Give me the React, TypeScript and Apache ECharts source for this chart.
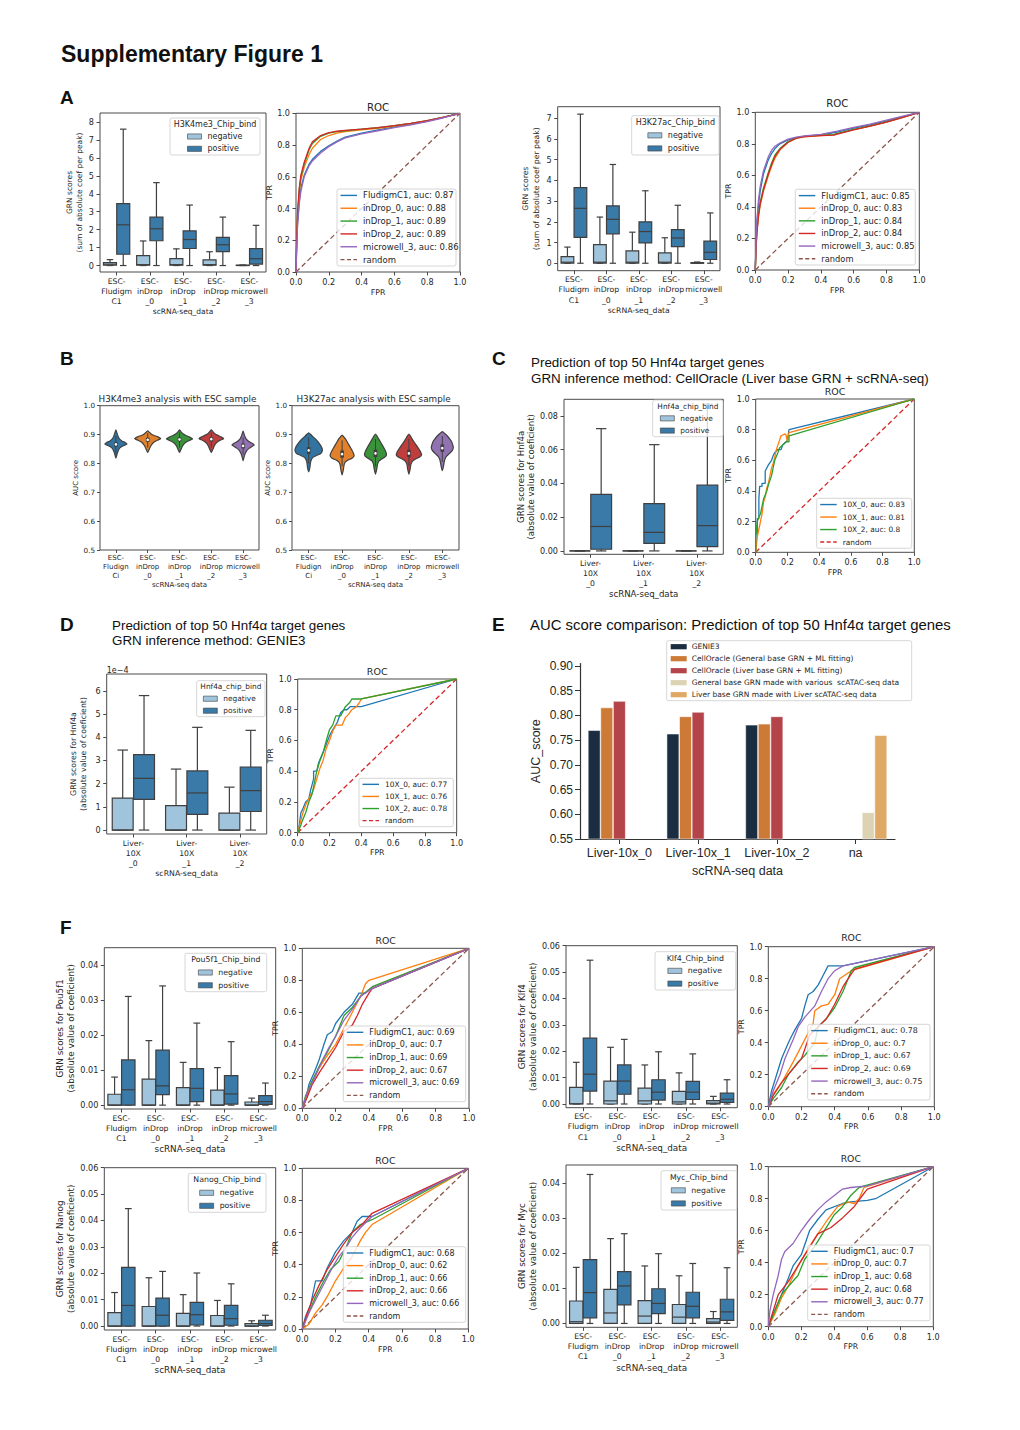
import React, { useEffect, useRef } from "react";
import * as echarts from "echarts";

// ---------------- categories & ticks ----------------
const ESC_CATEGORIES = ["ESC-\nFludigm\nC1", "ESC-\ninDrop\n_0", "ESC-\ninDrop\n_1", "ESC-\ninDrop\n_2", "ESC-\nmicrowell\n_3"];
const VIOLIN_CATEGORIES = ["ESC-\nFludign\nCi", "ESC-\ninDrop\n_0", "ESC-\ninDrop\n_1", "ESC-\ninDrop\n_2", "ESC-\nmicrowell\n_3"];
const LIVER_CATEGORIES = ["Liver-\n10X\n_0", "Liver-\n10X\n_1", "Liver-\n10X\n_2"];
const E_CATEGORIES = ["Liver-10x_0", "Liver-10x_1", "Liver-10x_2", "na"];
const ESC_ROC_NAMES = ["FludigmC1", "inDrop_0", "inDrop_1", "inDrop_2", "microwell_3"];
const LIVER_ROC_NAMES = ["10X_0", "10X_1", "10X_2"];

const ROC_TICKS = [0, 0.2, 0.4, 0.6, 0.8, 1.0];
const A1_TICKS = [0, 1, 2, 3, 4, 5, 6, 7, 8];
const A2_TICKS = [0, 1, 2, 3, 4, 5, 6, 7];
const C_TICKS = [0, 0.02, 0.04, 0.06, 0.08];
const D_TICKS = [0, 1, 2, 3, 4, 5, 6];
const F4_TICKS = [0, 0.01, 0.02, 0.03, 0.04];
const F6_TICKS = [0, 0.01, 0.02, 0.03, 0.04, 0.05, 0.06];
const B_TICKS = [0.5, 0.6, 0.7, 0.8, 0.9, 1.0];
const E_TICKS = [0.55, 0.6, 0.65, 0.7, 0.75, 0.8, 0.85, 0.9];

// ---------------- box plot values [min, q1, median, q3, max] ----------------
const A1_NEG = [[0, 0.02, 0.08, 0.17, 0.33], [0, 0.02, 0.05, 0.55, 1.37], [0, 0.02, 0.05, 0.38, 0.93], [0, 0.02, 0.05, 0.32, 0.77], [0, 0, 0.01, 0.02, 0.03]];
const A1_POS = [[0, 0.63, 2.27, 3.45, 7.6], [0, 1.38, 2.05, 2.7, 4.62], [0, 0.95, 1.45, 1.93, 3.37], [0, 0.78, 1.16, 1.57, 2.7], [0, 0.08, 0.38, 0.94, 2.24]];
const A2_NEG = [[0, 0.01, 0.05, 0.32, 0.78], [0, 0.01, 0.05, 0.9, 2.23], [0, 0.01, 0.05, 0.6, 1.5], [0, 0.01, 0.05, 0.5, 1.23], [0, 0, 0.01, 0.03, 0.06]];
const A2_POS = [[0, 1.25, 2.65, 3.65, 7.2], [0, 1.42, 2.12, 2.77, 4.77], [0, 0.98, 1.53, 2.0, 3.5], [0, 0.8, 1.22, 1.62, 2.8], [0, 0.18, 0.53, 1.07, 2.43]];
const C_NEG = [[0, 0, 0, 0, 0], [0, 0, 0, 0, 0], [0, 0, 0, 0, 0]];
const C_POS = [[0, 0.001, 0.0145, 0.0335, 0.0725], [0, 0.0045, 0.011, 0.028, 0.063], [0, 0.0025, 0.015, 0.039, 0.087]];
const D_NEG = [[0, 0, 0, 1.38, 3.45], [0, 0, 0, 1.05, 2.63], [0, 0, 0, 0.73, 1.85]];
const D_POS = [[0, 1.32, 2.23, 3.25, 5.8], [0, 0.68, 1.6, 2.55, 4.43], [0, 0.8, 1.7, 2.72, 4.3]];
const POU5F1_NEG = [[0, 0, 0, 0.0031, 0.008], [0, 0, 0, 0.0074, 0.0184], [0, 0, 0, 0.005, 0.0122], [0, 0, 0, 0.0043, 0.0107], [0, 0, 0, 0.0009, 0.002]];
const POU5F1_POS = [[0, 0, 0.0044, 0.0129, 0.031], [0, 0.003, 0.0055, 0.0157, 0.034], [0, 0.001, 0.0048, 0.0104, 0.0234], [0, 0.0003, 0.0032, 0.0084, 0.0181], [0, 0.0002, 0.001, 0.0027, 0.0063]];
const KLF4_NEG = [[0, 0, 0.0001, 0.0063, 0.0158], [0, 0, 0.0012, 0.0087, 0.0215], [0, 0, 0.0012, 0.006, 0.0148], [0, 0, 0.0008, 0.0048, 0.0118], [0, 0, 0.0003, 0.0013, 0.0029]];
const KLF4_POS = [[0, 0.0049, 0.0113, 0.025, 0.0545], [0, 0.0037, 0.0087, 0.0148, 0.0245], [0, 0.0015, 0.0045, 0.0092, 0.0198], [0, 0.0017, 0.0045, 0.0086, 0.019], [0, 0.0006, 0.0018, 0.0041, 0.0092]];
const NANOG_NEG = [[0, 0, 0, 0.0051, 0.0127], [0, 0, 0, 0.0074, 0.0183], [0, 0, 0, 0.0048, 0.0119], [0, 0, 0, 0.004, 0.0097], [0, 0, 0, 0.0009, 0.002]];
const NANOG_POS = [[0, 0, 0.0078, 0.0222, 0.0445], [0, 0, 0.0041, 0.0106, 0.0207], [0, 0.0004, 0.0043, 0.009, 0.0201], [0, 0.0003, 0.0028, 0.0078, 0.016], [0, 0.0002, 0.0009, 0.0022, 0.0041]];
const MYC_NEG = [[0, 0, 0.0005, 0.0064, 0.016], [0, 0, 0.003, 0.0097, 0.0242], [0, 0, 0.0021, 0.0065, 0.0164], [0, 0, 0.0018, 0.0054, 0.0136], [0, 0, 0.0004, 0.0014, 0.0034]];
const MYC_POS = [[0, 0.0016, 0.0088, 0.0182, 0.0425], [0, 0.0053, 0.0107, 0.0148, 0.0256], [0, 0.0028, 0.0057, 0.0099, 0.0199], [0, 0.0016, 0.0049, 0.0089, 0.0171], [0, 0.0009, 0.0033, 0.0069, 0.0159]];

// ---------------- AUC values ----------------
const A1_AUC = [0.87, 0.88, 0.89, 0.89, 0.86];
const A2_AUC = [0.85, 0.83, 0.84, 0.84, 0.85];
const C_AUC = [0.83, 0.81, 0.8];
const D_AUC = [0.77, 0.76, 0.78];
const POU5F1_AUC = [0.69, 0.7, 0.69, 0.67, 0.69];
const KLF4_AUC = [0.78, 0.7, 0.67, 0.69, 0.75];
const NANOG_AUC = [0.68, 0.62, 0.66, 0.66, 0.66];
const MYC_AUC = [0.7, 0.7, 0.68, 0.68, 0.77];

// ---------------- ROC curves [fpr, tpr] ----------------
const A1_ROC = [
  [[0, 0], [0.005, 0.2], [0.01, 0.32], [0.02, 0.45], [0.03, 0.53], [0.05, 0.61], [0.08, 0.68], [0.1, 0.71], [0.15, 0.76], [0.2, 0.795], [0.25, 0.825], [0.3, 0.85], [0.4, 0.875], [0.5, 0.895], [0.6, 0.915], [0.7, 0.93], [0.8, 0.95], [0.9, 0.975], [1, 1]],
  [[0, 0], [0.005, 0.22], [0.01, 0.35], [0.02, 0.5], [0.03, 0.58], [0.05, 0.66], [0.08, 0.74], [0.1, 0.78], [0.15, 0.835], [0.2, 0.86], [0.25, 0.875], [0.3, 0.885], [0.4, 0.895], [0.5, 0.905], [0.6, 0.92], [0.7, 0.935], [0.8, 0.952], [0.9, 0.975], [1, 1]],
  [[0, 0], [0.005, 0.24], [0.01, 0.37], [0.02, 0.52], [0.03, 0.6], [0.05, 0.68], [0.08, 0.77], [0.1, 0.81], [0.15, 0.855], [0.2, 0.875], [0.25, 0.885], [0.3, 0.89], [0.4, 0.9], [0.5, 0.91], [0.6, 0.922], [0.7, 0.937], [0.8, 0.953], [0.9, 0.976], [1, 1]],
  [[0, 0], [0.005, 0.25], [0.01, 0.38], [0.02, 0.53], [0.03, 0.61], [0.05, 0.69], [0.08, 0.78], [0.1, 0.82], [0.15, 0.86], [0.2, 0.878], [0.25, 0.887], [0.3, 0.892], [0.4, 0.9], [0.5, 0.91], [0.6, 0.922], [0.7, 0.937], [0.8, 0.953], [0.9, 0.976], [1, 1]],
  [[0, 0], [0.005, 0.18], [0.01, 0.3], [0.02, 0.43], [0.03, 0.51], [0.05, 0.6], [0.08, 0.67], [0.1, 0.7], [0.15, 0.75], [0.2, 0.79], [0.25, 0.82], [0.3, 0.845], [0.4, 0.87], [0.5, 0.89], [0.6, 0.91], [0.7, 0.927], [0.8, 0.947], [0.9, 0.972], [1, 1]],
];
const A2_ROC = [
  [[0, 0], [0.005, 0.2], [0.01, 0.3], [0.02, 0.42], [0.03, 0.5], [0.05, 0.61], [0.08, 0.7], [0.1, 0.74], [0.12, 0.77], [0.15, 0.8], [0.2, 0.825], [0.25, 0.84], [0.3, 0.848], [0.4, 0.857], [0.5, 0.875], [0.6, 0.9], [0.7, 0.92], [0.8, 0.945], [0.9, 0.972], [1, 1]],
  [[0, 0], [0.005, 0.15], [0.01, 0.24], [0.02, 0.34], [0.03, 0.41], [0.05, 0.5], [0.08, 0.6], [0.1, 0.66], [0.12, 0.71], [0.15, 0.76], [0.2, 0.81], [0.25, 0.835], [0.3, 0.845], [0.4, 0.853], [0.48, 0.86], [0.5, 0.865], [0.6, 0.89], [0.7, 0.912], [0.8, 0.938], [0.9, 0.968], [1, 1]],
  [[0, 0], [0.005, 0.16], [0.01, 0.25], [0.02, 0.36], [0.03, 0.43], [0.05, 0.52], [0.08, 0.62], [0.1, 0.68], [0.12, 0.73], [0.15, 0.77], [0.2, 0.815], [0.25, 0.838], [0.3, 0.847], [0.4, 0.855], [0.48, 0.858], [0.5, 0.865], [0.6, 0.892], [0.7, 0.914], [0.8, 0.94], [0.9, 0.97], [1, 1]],
  [[0, 0], [0.005, 0.15], [0.01, 0.24], [0.02, 0.35], [0.03, 0.42], [0.05, 0.51], [0.08, 0.61], [0.1, 0.67], [0.12, 0.72], [0.15, 0.765], [0.2, 0.81], [0.25, 0.836], [0.3, 0.846], [0.4, 0.852], [0.48, 0.855], [0.5, 0.862], [0.6, 0.889], [0.7, 0.912], [0.8, 0.938], [0.9, 0.968], [1, 1]],
  [[0, 0], [0.005, 0.22], [0.01, 0.32], [0.02, 0.45], [0.03, 0.53], [0.05, 0.63], [0.08, 0.72], [0.1, 0.76], [0.12, 0.785], [0.15, 0.805], [0.2, 0.83], [0.25, 0.842], [0.3, 0.85], [0.4, 0.86], [0.5, 0.88], [0.6, 0.905], [0.7, 0.925], [0.8, 0.95], [0.9, 0.975], [1, 1]],
];
const C_ROC = [
  [[0, 0], [0, 0.12], [0.01, 0.12], [0.01, 0.22], [0.02, 0.22], [0.02, 0.35], [0.025, 0.43], [0.04, 0.43], [0.04, 0.45], [0.06, 0.45], [0.06, 0.53], [0.07, 0.55], [0.08, 0.57], [0.1, 0.6], [0.11, 0.63], [0.12, 0.65], [0.14, 0.67], [0.16, 0.67], [0.17, 0.7], [0.19, 0.72], [0.2, 0.73], [0.21, 0.8], [1, 1]],
  [[0, 0], [0.01, 0.1], [0.02, 0.15], [0.03, 0.2], [0.04, 0.25], [0.05, 0.33], [0.06, 0.36], [0.07, 0.42], [0.08, 0.45], [0.09, 0.5], [0.1, 0.55], [0.11, 0.58], [0.12, 0.62], [0.13, 0.67], [0.14, 0.7], [0.15, 0.73], [0.16, 0.76], [0.18, 0.77], [0.19, 0.77], [0.2, 0.72], [0.21, 0.78], [1, 1]],
  [[0, 0], [0, 0.1], [0.01, 0.2], [0.02, 0.23], [0.03, 0.25], [0.04, 0.3], [0.05, 0.35], [0.07, 0.4], [0.08, 0.44], [0.1, 0.5], [0.11, 0.55], [0.12, 0.6], [0.14, 0.65], [0.15, 0.68], [0.17, 0.7], [0.19, 0.72], [0.21, 0.72], [0.21, 0.76], [1, 1]],
];
const D_ROC = [
  [[0, 0], [0.01, 0.05], [0.02, 0.13], [0.03, 0.15], [0.05, 0.2], [0.07, 0.22], [0.08, 0.27], [0.1, 0.35], [0.1, 0.4], [0.12, 0.4], [0.13, 0.45], [0.15, 0.5], [0.17, 0.55], [0.2, 0.63], [0.22, 0.67], [0.25, 0.72], [0.27, 0.78], [0.29, 0.8], [0.31, 0.8], [0.33, 0.82], [0.4, 0.82], [1, 1]],
  [[0, 0], [0.02, 0.08], [0.03, 0.12], [0.05, 0.18], [0.07, 0.22], [0.1, 0.28], [0.12, 0.35], [0.14, 0.42], [0.16, 0.47], [0.18, 0.55], [0.2, 0.6], [0.22, 0.66], [0.24, 0.7], [0.28, 0.7], [0.3, 0.75], [0.32, 0.77], [0.34, 0.8], [0.37, 0.82], [0.39, 0.85], [0.4, 0.87], [1, 1]],
  [[0, 0], [0.02, 0.05], [0.03, 0.08], [0.05, 0.13], [0.07, 0.2], [0.09, 0.25], [0.1, 0.3], [0.12, 0.4], [0.14, 0.47], [0.16, 0.52], [0.18, 0.6], [0.2, 0.67], [0.22, 0.7], [0.24, 0.76], [0.27, 0.76], [0.3, 0.82], [0.33, 0.85], [0.34, 0.87], [0.4, 0.87], [1, 1]],
];
const POU5F1_ROC = [
  [[0, 0], [0.02, 0.05], [0.04, 0.15], [0.07, 0.22], [0.1, 0.3], [0.13, 0.4], [0.15, 0.46], [0.18, 0.48], [0.2, 0.53], [0.25, 0.6], [0.3, 0.65], [0.34, 0.72], [0.38, 0.72], [0.4, 0.74], [1, 1]],
  [[0, 0], [0.03, 0.08], [0.05, 0.15], [0.1, 0.25], [0.15, 0.33], [0.2, 0.4], [0.25, 0.5], [0.3, 0.6], [0.35, 0.7], [0.38, 0.78], [0.4, 0.8], [1, 1]],
  [[0, 0], [0.02, 0.08], [0.05, 0.15], [0.1, 0.26], [0.15, 0.35], [0.2, 0.45], [0.25, 0.58], [0.3, 0.63], [0.35, 0.7], [0.42, 0.76], [1, 1]],
  [[0, 0], [0.03, 0.07], [0.06, 0.15], [0.1, 0.22], [0.15, 0.3], [0.2, 0.38], [0.25, 0.48], [0.3, 0.52], [0.33, 0.58], [0.36, 0.65], [0.4, 0.72], [0.42, 0.75], [1, 1]],
  [[0, 0], [0.03, 0.1], [0.07, 0.18], [0.12, 0.3], [0.16, 0.38], [0.2, 0.45], [0.25, 0.55], [0.3, 0.62], [0.35, 0.7], [0.42, 0.75], [1, 1]],
];
const KLF4_ROC = [
  [[0, 0], [0.02, 0.1], [0.05, 0.2], [0.08, 0.3], [0.1, 0.35], [0.13, 0.42], [0.16, 0.48], [0.2, 0.55], [0.22, 0.63], [0.24, 0.7], [0.27, 0.72], [0.3, 0.76], [0.33, 0.82], [0.36, 0.88], [0.45, 0.88], [1, 1]],
  [[0, 0], [0.03, 0.08], [0.08, 0.15], [0.15, 0.28], [0.2, 0.38], [0.25, 0.48], [0.27, 0.52], [0.28, 0.6], [0.32, 0.63], [0.36, 0.64], [0.4, 0.7], [0.43, 0.8], [0.5, 0.85], [1, 1]],
  [[0, 0], [0.03, 0.05], [0.08, 0.12], [0.12, 0.2], [0.18, 0.28], [0.22, 0.32], [0.28, 0.4], [0.3, 0.5], [0.35, 0.55], [0.4, 0.62], [0.45, 0.72], [0.5, 0.85], [0.52, 0.87], [1, 1]],
  [[0, 0], [0.03, 0.07], [0.08, 0.15], [0.12, 0.2], [0.2, 0.3], [0.25, 0.45], [0.3, 0.5], [0.35, 0.55], [0.4, 0.64], [0.45, 0.75], [0.5, 0.83], [0.52, 0.86], [1, 1]],
  [[0, 0], [0.03, 0.1], [0.07, 0.2], [0.1, 0.3], [0.15, 0.42], [0.18, 0.5], [0.22, 0.56], [0.28, 0.63], [0.32, 0.72], [0.36, 0.8], [0.4, 0.85], [0.45, 0.88], [1, 1]],
];
const NANOG_ROC = [
  [[0, 0], [0.02, 0.08], [0.05, 0.15], [0.08, 0.3], [0.12, 0.3], [0.15, 0.38], [0.2, 0.48], [0.25, 0.55], [0.3, 0.6], [0.33, 0.67], [0.36, 0.7], [0.42, 0.7], [1, 1]],
  [[0, 0], [0.04, 0.03], [0.08, 0.1], [0.12, 0.15], [0.16, 0.22], [0.2, 0.3], [0.25, 0.38], [0.3, 0.45], [0.35, 0.55], [0.38, 0.6], [0.42, 0.65], [1, 1]],
  [[0, 0], [0.03, 0.08], [0.08, 0.2], [0.13, 0.3], [0.17, 0.37], [0.22, 0.42], [0.26, 0.5], [0.3, 0.6], [0.35, 0.65], [0.42, 0.68], [1, 1]],
  [[0, 0], [0.03, 0.1], [0.06, 0.18], [0.1, 0.27], [0.15, 0.37], [0.2, 0.45], [0.25, 0.53], [0.3, 0.6], [0.36, 0.65], [0.42, 0.72], [1, 1]],
  [[0, 0], [0.04, 0.1], [0.08, 0.18], [0.13, 0.28], [0.18, 0.38], [0.22, 0.45], [0.26, 0.5], [0.3, 0.57], [0.35, 0.63], [0.42, 0.7], [1, 1]],
];
const MYC_ROC = [
  [[0, 0], [0.03, 0.08], [0.08, 0.2], [0.12, 0.3], [0.15, 0.38], [0.2, 0.45], [0.25, 0.6], [0.3, 0.67], [0.35, 0.73], [0.45, 0.77], [0.5, 0.78], [0.6, 0.79], [0.65, 0.8], [1, 1]],
  [[0, 0], [0.04, 0.08], [0.08, 0.18], [0.12, 0.25], [0.18, 0.38], [0.25, 0.5], [0.3, 0.58], [0.36, 0.67], [0.42, 0.75], [0.48, 0.78], [0.52, 0.77], [0.55, 0.8], [0.58, 0.87], [1, 1]],
  [[0, 0], [0.04, 0.1], [0.08, 0.2], [0.12, 0.25], [0.18, 0.32], [0.22, 0.42], [0.28, 0.5], [0.34, 0.6], [0.4, 0.7], [0.45, 0.75], [0.5, 0.82], [0.55, 0.87], [1, 1]],
  [[0, 0], [0.03, 0.1], [0.06, 0.2], [0.12, 0.28], [0.18, 0.38], [0.24, 0.48], [0.3, 0.58], [0.38, 0.62], [0.45, 0.68], [0.52, 0.75], [0.57, 0.82], [0.6, 0.86], [1, 1]],
  [[0, 0], [0.01, 0.1], [0.03, 0.2], [0.06, 0.32], [0.08, 0.42], [0.1, 0.47], [0.15, 0.52], [0.2, 0.6], [0.25, 0.67], [0.3, 0.73], [0.35, 0.78], [0.4, 0.82], [0.45, 0.86], [0.5, 0.87], [0.6, 0.88], [1, 1]],
];
const RANDOM_LINE = [[0, 0], [1, 1]];

// ---------------- violin data: shape [value, half-width as band fraction] (bottom→top); inner [q1, median, q3, lo, hi] ----------------
const B1_SHAPES = [
  [[0.818, 0], [0.83, 0.03], [0.84, 0.06], [0.85, 0.1], [0.857, 0.16], [0.862, 0.25], [0.867, 0.35], [0.872, 0.3], [0.877, 0.2], [0.884, 0.12], [0.893, 0.07], [0.905, 0.035], [0.916, 0]],
  [[0.838, 0], [0.847, 0.04], [0.857, 0.08], [0.866, 0.13], [0.874, 0.2], [0.88, 0.3], [0.886, 0.41], [0.892, 0.32], [0.897, 0.2], [0.902, 0.11], [0.908, 0.05], [0.913, 0]],
  [[0.838, 0], [0.847, 0.04], [0.857, 0.08], [0.866, 0.13], [0.873, 0.2], [0.879, 0.3], [0.885, 0.41], [0.891, 0.32], [0.897, 0.2], [0.903, 0.11], [0.909, 0.05], [0.916, 0]],
  [[0.838, 0], [0.847, 0.04], [0.857, 0.08], [0.866, 0.12], [0.874, 0.19], [0.88, 0.28], [0.886, 0.39], [0.892, 0.3], [0.898, 0.19], [0.904, 0.1], [0.91, 0.05], [0.916, 0]],
  [[0.81, 0], [0.822, 0.03], [0.835, 0.07], [0.845, 0.12], [0.853, 0.2], [0.859, 0.28], [0.864, 0.35], [0.87, 0.28], [0.876, 0.18], [0.884, 0.1], [0.895, 0.05], [0.912, 0]],
];
const B1_INNER = [[0.858, 0.866, 0.873, 0.835, 0.895], [0.875, 0.882, 0.889, 0.855, 0.905], [0.876, 0.883, 0.89, 0.855, 0.907], [0.876, 0.884, 0.891, 0.855, 0.907], [0.852, 0.861, 0.869, 0.83, 0.89]];
const B2_SHAPES = [
  [[0.771, 0], [0.785, 0.035], [0.8, 0.05], [0.81, 0.07], [0.82, 0.12], [0.828, 0.25], [0.835, 0.37], [0.845, 0.41], [0.855, 0.39], [0.865, 0.34], [0.875, 0.28], [0.885, 0.2], [0.893, 0.12], [0.9, 0.06], [0.906, 0]],
  [[0.76, 0], [0.78, 0.04], [0.795, 0.06], [0.805, 0.1], [0.812, 0.18], [0.818, 0.3], [0.826, 0.36], [0.835, 0.34], [0.845, 0.3], [0.855, 0.25], [0.865, 0.2], [0.875, 0.15], [0.885, 0.1], [0.892, 0.05], [0.898, 0]],
  [[0.763, 0], [0.782, 0.04], [0.797, 0.06], [0.808, 0.1], [0.815, 0.18], [0.822, 0.28], [0.83, 0.33], [0.84, 0.31], [0.85, 0.27], [0.86, 0.22], [0.87, 0.17], [0.88, 0.12], [0.89, 0.07], [0.902, 0]],
  [[0.763, 0], [0.782, 0.04], [0.797, 0.06], [0.808, 0.11], [0.815, 0.2], [0.822, 0.32], [0.83, 0.38], [0.84, 0.35], [0.85, 0.3], [0.86, 0.24], [0.87, 0.18], [0.88, 0.12], [0.89, 0.07], [0.902, 0]],
  [[0.775, 0], [0.79, 0.035], [0.8, 0.05], [0.815, 0.08], [0.825, 0.13], [0.835, 0.22], [0.845, 0.3], [0.855, 0.33], [0.865, 0.31], [0.875, 0.28], [0.885, 0.22], [0.895, 0.15], [0.903, 0.08], [0.91, 0]],
];
const B2_INNER = [[0.833, 0.845, 0.857, 0.8, 0.89], [0.82, 0.832, 0.845, 0.79, 0.88], [0.822, 0.835, 0.848, 0.79, 0.885], [0.822, 0.835, 0.848, 0.79, 0.885], [0.84, 0.853, 0.866, 0.805, 0.895]];

// ---------------- panel E bars ----------------
const E_SERIES_NAMES = ["GENIE3", "CellOracle (General base GRN + ML fitting)", "CellOracle (Liver base GRN + ML fitting)", "General base GRN made with various  scATAC-seq data", "Liver base GRN made with Liver scATAC-seq data"];
const E_GENIE3 = [0.770, 0.763, 0.781, null];
const E_CO_GENERAL = [0.816, 0.798, 0.783, null];
const E_CO_LIVER = [0.829, 0.807, 0.798, null];
const E_GENERAL_BASE = [null, null, null, 0.604];
const E_LIVER_BASE = [null, null, null, 0.760];

// ---------------- styling ----------------
const FONT = "DejaVu Sans";
const SANS = "Liberation Sans";
const TXT = "#262626";
const SPINE = "#4a4a4a";
const EDGE = "#3f3f3f";
const NEG_COLOR = "#a0c4dc";
const POS_COLOR = "#3a7aa8";
const ROC_COLORS = ["#1f77b4", "#ff7f0e", "#2ca02c", "#d62728", "#9467bd"];
const VIOLIN_COLORS = ["#3274a1", "#e1812c", "#3a923a", "#c03d3e", "#9372b2"];
const E_COLORS = ["#1b2d40", "#cd7a36", "#b5434a", "#dcd3b2", "#dfa865"];

function T(x: number, y: number, text: string, size: number, o: any = {}) {
  return {
    type: "text", x, y, z: 100, silent: true,
    style: { text, fill: o.color || TXT, fontSize: size, fontFamily: o.family || FONT, fontWeight: o.weight || "normal", align: o.align || "left", verticalAlign: "middle" },
  };
}
function frameRect(x0: number, y0: number, x1: number, y1: number) {
  return { type: "rect", z: 99, silent: true, shape: { x: x0, y: y0, width: x1 - x0, height: y1 - y0, r: 2 }, style: { fill: "rgba(255,255,255,0.8)", stroke: "#cccccc", lineWidth: 0.8 } };
}

function makeBoxRender(offset: number, fill: string) {
  return (params: any, api: any) => {
    const cat = api.value(0);
    const mn = api.coord([cat, api.value(1)]);
    const q1 = api.coord([cat, api.value(2)]);
    const md = api.coord([cat, api.value(3)]);
    const q3 = api.coord([cat, api.value(4)]);
    const mx = api.coord([cat, api.value(5)]);
    const band = api.size([1, 0])[0];
    const cx = mn[0] + offset * band;
    const w = band * 0.392;
    const cap = w / 4;
    const st = { stroke: EDGE, lineWidth: 1.2 };
    return {
      type: "group",
      children: [
        { type: "line", shape: { x1: cx, y1: q3[1], x2: cx, y2: mx[1] }, style: st },
        { type: "line", shape: { x1: cx, y1: q1[1], x2: cx, y2: mn[1] }, style: st },
        { type: "line", shape: { x1: cx - cap, y1: mx[1], x2: cx + cap, y2: mx[1] }, style: st },
        { type: "line", shape: { x1: cx - cap, y1: mn[1], x2: cx + cap, y2: mn[1] }, style: st },
        { type: "rect", shape: { x: cx - w / 2, y: q3[1], width: w, height: Math.max(q1[1] - q3[1], 0) }, style: { fill, stroke: EDGE, lineWidth: 1.2 } },
        { type: "line", shape: { x1: cx - w / 2, y1: md[1], x2: cx + w / 2, y2: md[1] }, style: st },
      ],
    };
  };
}

function makeViolinRender(shapes: number[][][], colors: string[]) {
  return (params: any, api: any) => {
    const i = params.dataIndex;
    const cat = api.value(0);
    const band = api.size([1, 0])[0];
    const shp = shapes[i];
    const center = api.coord([cat, shp[0][0]])[0];
    const right = shp.map(([v, h]) => [center + h * band, api.coord([cat, v])[1]]);
    const left = shp.slice(1, -1).reverse().map(([v, h]) => [center - h * band, api.coord([cat, v])[1]]);
    const q1 = api.coord([cat, api.value(1)])[1];
    const md = api.coord([cat, api.value(2)])[1];
    const q3 = api.coord([cat, api.value(3)])[1];
    const lo = api.coord([cat, api.value(4)])[1];
    const hi = api.coord([cat, api.value(5)])[1];
    return {
      type: "group",
      children: [
        { type: "polygon", shape: { points: right.concat(left), smooth: 0.2 }, style: { fill: colors[i], stroke: EDGE, lineWidth: 1.2 } },
        { type: "line", shape: { x1: center, y1: lo, x2: center, y2: hi }, style: { stroke: EDGE, lineWidth: 1 } },
        { type: "rect", shape: { x: center - 1.8, y: q3, width: 3.6, height: q1 - q3 }, style: { fill: EDGE } },
        { type: "circle", shape: { cx: center, cy: md, r: 1.3 }, style: { fill: "#ffffff" } },
      ],
    };
  };
}

function buildOption() {
  const grid: any[] = [];
  const xAxis: any[] = [];
  const yAxis: any[] = [];
  const series: any[] = [];
  const graphic: any[] = [];

  const addGrid = (l: number, t: number, r: number, b: number, frame = true) => {
    grid.push({ left: l, top: t, width: r - l, height: b - t, show: frame, borderColor: SPINE, borderWidth: 1, backgroundColor: "transparent" });
    return grid.length - 1;
  };

  const boxLegend = (x0: number, y0: number, x1: number, y1: number, title: string, fs: number) => {
    const cx = (x0 + x1) / 2;
    const h = (y1 - y0) / 3;
    graphic.push(frameRect(x0, y0, x1, y1));
    graphic.push(T(cx, y0 + h * 0.5, title, fs, { align: "center" }));
    [["negative", NEG_COLOR], ["positive", POS_COLOR]].forEach(([lab, col], k) => {
      const y = y0 + h * (k + 1.5);
      graphic.push({ type: "rect", z: 100, silent: true, shape: { x: cx - 27.5, y: y - 2.6, width: 14, height: 5.2 }, style: { fill: col, stroke: EDGE, lineWidth: 0.6 } });
      graphic.push(T(cx - 7.5, y, lab, fs));
    });
  };

  const boxPanel = (p: any) => {
    const g = addGrid(p.l, p.t, p.r, p.b);
    xAxis.push({
      type: "category", gridIndex: g, data: p.cats,
      axisLine: { show: false, onZero: false },
      axisTick: { show: true, alignWithLabel: true, length: 3.5, lineStyle: { color: SPINE } },
      axisLabel: { interval: 0, fontSize: 7.7, lineHeight: 10.2, color: TXT, fontFamily: FONT, margin: 4 },
      splitLine: { show: false },
      name: "scRNA-seq_data", nameLocation: "middle", nameGap: p.xGap,
      nameTextStyle: { fontSize: p.nameFs, color: TXT, fontFamily: FONT },
    });
    yAxis.push({
      type: "value", gridIndex: g, min: p.yMin, max: p.yMax,
      axisLine: { show: false, onZero: false },
      axisTick: { show: true, length: 3.5, customValues: p.ticks, lineStyle: { color: SPINE } },
      axisLabel: { customValues: p.ticks, formatter: (v: number) => v.toFixed(p.dec), fontSize: 8.1, color: TXT, fontFamily: FONT, margin: 6 },
      splitLine: { show: false },
      name: p.yName, nameLocation: "middle", nameRotate: 90, nameGap: p.yGap,
      nameTextStyle: { fontSize: p.nameFs, lineHeight: p.nameLh, color: TXT, fontFamily: FONT, align: "center" },
    });
    series.push({ type: "custom", xAxisIndex: g, yAxisIndex: g, silent: true, renderItem: makeBoxRender(-0.2, NEG_COLOR), data: p.neg.map((d: number[], i: number) => [i, ...d]) });
    series.push({ type: "custom", xAxisIndex: g, yAxisIndex: g, silent: true, renderItem: makeBoxRender(0.2, POS_COLOR), data: p.pos.map((d: number[], i: number) => [i, ...d]) });
    boxLegend(p.leg[0], p.leg[1], p.leg[2], p.leg[3], p.legTitle, p.legFs);
  };

  const rocPanel = (p: any) => {
    const g = addGrid(p.l, p.t, p.r, p.b);
    const axisCommon = {
      type: "value", gridIndex: g, min: 0, max: 1,
      axisLine: { show: false, onZero: false },
      axisTick: { show: true, length: 3.5, customValues: ROC_TICKS, lineStyle: { color: SPINE } },
      axisLabel: { customValues: ROC_TICKS, formatter: (v: number) => v.toFixed(1), fontSize: 8.1, color: TXT, fontFamily: FONT, margin: 6 },
      splitLine: { show: false },
    };
    xAxis.push({ ...axisCommon, name: "FPR", nameLocation: "middle", nameGap: 16, nameTextStyle: { fontSize: 7.8, color: TXT, fontFamily: FONT } });
    yAxis.push({ ...axisCommon, name: "TPR", nameLocation: "middle", nameRotate: 90, nameGap: p.yGap, nameTextStyle: { fontSize: 7.8, color: TXT, fontFamily: FONT } });
    p.curves.forEach((c: number[][], k: number) => {
      series.push({ type: "line", xAxisIndex: g, yAxisIndex: g, data: c, symbol: "none", silent: true, lineStyle: { color: ROC_COLORS[k], width: 1.3 }, itemStyle: { color: ROC_COLORS[k] }, z: 3 });
    });
    series.push({ type: "line", xAxisIndex: g, yAxisIndex: g, data: RANDOM_LINE, symbol: "none", silent: true, lineStyle: { color: p.randomColor, width: 1.3, type: [5, 3] }, z: 2 });
    graphic.push(T((p.l + p.r) / 2, p.titleY, "ROC", p.titleFs, { align: "center" }));
    const [x0, y0, x1, y1] = p.leg;
    const n = p.curves.length + 1;
    const h = (y1 - y0) / n;
    graphic.push(frameRect(x0, y0, x1, y1));
    for (let k = 0; k < n; k++) {
      const y = y0 + h * (k + 0.5);
      const isRand = k === n - 1;
      graphic.push({ type: "line", z: 100, silent: true, shape: { x1: x0 + 3.5, y1: y, x2: x0 + 20, y2: y }, style: { stroke: isRand ? p.randomColor : ROC_COLORS[k], lineWidth: 1.4, lineDash: isRand ? [4, 2.5] : null } });
      graphic.push(T(x0 + 26, y, isRand ? "random" : `${p.names[k]}, auc: ${p.aucs[k]}`, p.legFs));
    }
  };

  const violinPanel = (p: any) => {
    const g = addGrid(p.l, p.t, p.r, p.b);
    xAxis.push({
      type: "category", gridIndex: g, data: VIOLIN_CATEGORIES,
      axisLine: { show: false, onZero: false },
      axisTick: { show: true, alignWithLabel: true, length: 3, lineStyle: { color: SPINE } },
      axisLabel: { interval: 0, fontSize: 7, lineHeight: 8.8, color: TXT, fontFamily: FONT, margin: 4 },
      splitLine: { show: false },
      name: "scRNA-seq data", nameLocation: "middle", nameGap: 31, nameTextStyle: { fontSize: 7, color: TXT, fontFamily: FONT },
    });
    yAxis.push({
      type: "value", gridIndex: g, min: 0.5, max: 1.0,
      axisLine: { show: false, onZero: false },
      axisTick: { show: true, length: 3, customValues: B_TICKS, lineStyle: { color: SPINE } },
      axisLabel: { customValues: B_TICKS, formatter: (v: number) => v.toFixed(1), fontSize: 7.2, color: TXT, fontFamily: FONT, margin: 5 },
      splitLine: { show: false },
      name: "AUC score", nameLocation: "middle", nameRotate: 90, nameGap: p.yGap, nameTextStyle: { fontSize: 7, color: TXT, fontFamily: FONT },
    });
    series.push({ type: "custom", xAxisIndex: g, yAxisIndex: g, silent: true, renderItem: makeViolinRender(p.shapes, VIOLIN_COLORS), data: p.inner.map((d: number[], i: number) => [i, ...d]) });
    graphic.push(T((p.l + p.r) / 2 - 2, p.t - 7, p.title, 8.8, { align: "center" }));
  };

  // ---------- headings ----------
  graphic.push(T(61, 54, "Supplementary Figure 1", 23, { family: SANS, weight: "bold", color: "#111" }));
  graphic.push(T(60, 97, "A", 19, { family: SANS, weight: "bold", color: "#111" }));
  graphic.push(T(60, 358, "B", 19, { family: SANS, weight: "bold", color: "#111" }));
  graphic.push(T(492, 358, "C", 19, { family: SANS, weight: "bold", color: "#111" }));
  graphic.push(T(60, 624, "D", 19, { family: SANS, weight: "bold", color: "#111" }));
  graphic.push(T(492, 624, "E", 19, { family: SANS, weight: "bold", color: "#111" }));
  graphic.push(T(60, 927, "F", 19, { family: SANS, weight: "bold", color: "#111" }));
  graphic.push(T(531, 362, "Prediction of top 50 Hnf4α target genes", 13.4, { family: SANS, color: "#111" }));
  graphic.push(T(531, 378.5, "GRN inference method: CellOracle (Liver base GRN + scRNA-seq)", 13.4, { family: SANS, color: "#111" }));
  graphic.push(T(112, 625, "Prediction of top 50 Hnf4α target genes", 13.4, { family: SANS, color: "#111" }));
  graphic.push(T(112, 640.5, "GRN inference method: GENIE3", 13.4, { family: SANS, color: "#111" }));
  graphic.push(T(530, 625, "AUC score comparison: Prediction of top 50 Hnf4α target genes", 14.9, { family: SANS, color: "#111" }));

  const ESC_Y = "GRN scores\n(sum of absolute coef per peak)";
  const HNF_Y = "GRN scores for Hnf4a\n(absolute value of coeficient)";

  // ---------- A ----------
  boxPanel({ l: 100, t: 113, r: 266, b: 272, cats: ESC_CATEGORIES, yMin: -0.36, yMax: 8.5, ticks: A1_TICKS, dec: 0, yName: ESC_Y, yGap: 9, xGap: 35.5, nameFs: 7.5, nameLh: 10.3, neg: A1_NEG, pos: A1_POS, leg: [170, 118, 260, 155], legTitle: "H3K4me3_Chip_bind", legFs: 8 });
  rocPanel({ l: 296, t: 113.3, r: 460, b: 272, curves: A1_ROC, names: ESC_ROC_NAMES, aucs: A1_AUC, randomColor: "#8c564b", titleY: 107, titleFs: 10.2, yGap: 21, leg: [337, 189, 456, 266], legFs: 8.5 });
  boxPanel({ l: 557.7, t: 106.7, r: 720, b: 270.7, cats: ESC_CATEGORIES, yMin: -0.36, yMax: 7.56, ticks: A2_TICKS, dec: 0, yName: ESC_Y, yGap: 6.5, xGap: 36, nameFs: 7.7, nameLh: 11.5, neg: A2_NEG, pos: A2_POS, leg: [631.7, 115.7, 719, 155], legTitle: "H3K27ac_Chip_bind", legFs: 8 });
  rocPanel({ l: 755.3, t: 112.3, r: 919.3, b: 270, curves: A2_ROC, names: ESC_ROC_NAMES, aucs: A2_AUC, randomColor: "#8c564b", titleY: 103.3, titleFs: 10.2, yGap: 21, leg: [795.3, 189.3, 915.3, 265], legFs: 8.3 });

  // ---------- B ----------
  violinPanel({ l: 100, t: 405.7, r: 259, b: 550, shapes: B1_SHAPES, inner: B1_INNER, title: "H3K4me3 analysis with ESC sample", yGap: 21 });
  violinPanel({ l: 292, t: 405.7, r: 459, b: 550, shapes: B2_SHAPES, inner: B2_INNER, title: "H3K27ac analysis with ESC sample", yGap: 14 });

  // ---------- C ----------
  boxPanel({ l: 564, t: 399.3, r: 723.3, b: 554.3, cats: LIVER_CATEGORIES, yMin: -0.002, yMax: 0.0899, ticks: C_TICKS, dec: 2, yName: HNF_Y, yGap: 26, xGap: 34.5, nameFs: 8.6, nameLh: 10.2, neg: C_NEG, pos: C_POS, leg: [652.7, 400, 723, 436.7], legTitle: "Hnf4a_chip_bind", legFs: 7.4 });
  rocPanel({ l: 755.7, t: 399, r: 914.3, b: 552.3, curves: C_ROC, names: LIVER_ROC_NAMES, aucs: C_AUC, randomColor: "#d62728", titleY: 391.7, titleFs: 9.5, yGap: 22.5, leg: [816.7, 498.3, 911.7, 548.3], legFs: 7.4 });

  // ---------- D ----------
  boxPanel({ l: 106.7, t: 674, r: 266.7, b: 834, cats: LIVER_CATEGORIES, yMin: -0.17, yMax: 6.73, ticks: D_TICKS, dec: 0, yName: HNF_Y, yGap: 18.5, xGap: 31, nameFs: 7.8, nameLh: 9.5, neg: D_NEG, pos: D_POS, leg: [196.7, 680.7, 265, 716.7], legTitle: "Hnf4a_chip_bind", legFs: 7.4 });
  graphic.push(T(106.7, 670.5, "1e\u22124", 8, {}));
  rocPanel({ l: 297.7, t: 679, r: 456.7, b: 832.7, curves: D_ROC, names: LIVER_ROC_NAMES, aucs: D_AUC, randomColor: "#d62728", titleY: 671, titleFs: 9.5, yGap: 21, leg: [359, 778.3, 453.3, 826.7], legFs: 7.4 });

  // ---------- E ----------
  const gE = addGrid(580, 663.5, 895, 839, false);
  xAxis.push({
    type: "category", gridIndex: gE, data: E_CATEGORIES,
    axisLine: { show: true, onZero: false, lineStyle: { color: "#333", width: 1.2 } },
    axisTick: { show: true, alignWithLabel: true, length: 5, lineStyle: { color: "#333" } },
    axisLabel: { interval: 0, fontSize: 12.5, color: TXT, fontFamily: SANS, margin: 7 },
    name: "scRNA-seq data", nameLocation: "middle", nameGap: 25, nameTextStyle: { fontSize: 12.5, color: TXT, fontFamily: SANS },
  });
  yAxis.push({
    type: "value", gridIndex: gE, min: 0.55, max: 0.905,
    axisLine: { show: true, onZero: false, lineStyle: { color: "#333", width: 1.2 } },
    axisTick: { show: true, length: 5, customValues: E_TICKS, lineStyle: { color: "#333" } },
    axisLabel: { customValues: E_TICKS, formatter: (v: number) => v.toFixed(2), fontSize: 12, color: TXT, fontFamily: SANS, margin: 7 },
    splitLine: { show: false },
    name: "AUC_score", nameLocation: "middle", nameRotate: 90, nameGap: 38, nameTextStyle: { fontSize: 12.5, color: TXT, fontFamily: SANS },
  });
  [E_GENIE3, E_CO_GENERAL, E_CO_LIVER, E_GENERAL_BASE, E_LIVER_BASE].forEach((d, k) => {
    series.push({ type: "bar", name: E_SERIES_NAMES[k], xAxisIndex: gE, yAxisIndex: gE, data: d, barGap: "0%", barCategoryGap: "20%", silent: true, itemStyle: { color: E_COLORS[k], borderColor: "rgba(255,255,255,0.9)", borderWidth: 0.6 } });
  });
  {
    const [x0, y0, x1, y1] = [666.7, 640.7, 911.7, 700.7];
    const h = (y1 - y0) / 5;
    graphic.push(frameRect(x0, y0, x1, y1));
    E_SERIES_NAMES.forEach((nm, k) => {
      const y = y0 + h * (k + 0.5);
      graphic.push({ type: "rect", z: 100, silent: true, shape: { x: x0 + 4, y: y - 2.6, width: 16, height: 5.2 }, style: { fill: E_COLORS[k] } });
      graphic.push(T(x0 + 25, y, nm, 7.5));
    });
  }

  // ---------- F ----------
  const fY = (g: string) => `GRN scores for ${g}\n(absolute value of coeficient)`;
  boxPanel({ l: 104.3, t: 947.7, r: 275.7, b: 1109, cats: ESC_CATEGORIES, yMin: -0.0011, yMax: 0.0449, ticks: F4_TICKS, dec: 2, yName: fY("Pou5f1"), yGap: 26.5, xGap: 34, nameFs: 8.8, nameLh: 11, neg: POU5F1_NEG, pos: POU5F1_POS, leg: [185, 953.3, 266.7, 991.7], legTitle: "Pou5f1_Chip_bind", legFs: 7.8 });
  rocPanel({ l: 302.3, t: 948.3, r: 469, b: 1108.3, curves: POU5F1_ROC, names: ESC_ROC_NAMES, aucs: POU5F1_AUC, randomColor: "#8c564b", titleY: 940, titleFs: 9.3, yGap: 15, leg: [343.3, 1026, 465.7, 1101.7], legFs: 8 });
  boxPanel({ l: 566, t: 945.7, r: 737.3, b: 1107.7, cats: ESC_CATEGORIES, yMin: -0.0014, yMax: 0.06, ticks: F6_TICKS, dec: 2, yName: fY("Klf4"), yGap: 23.8, xGap: 33, nameFs: 8.8, nameLh: 11, neg: KLF4_NEG, pos: KLF4_POS, leg: [655, 951.7, 735.7, 990], legTitle: "Klf4_Chip_bind", legFs: 7.8 });
  rocPanel({ l: 768.3, t: 946.7, r: 934.3, b: 1106.7, curves: KLF4_ROC, names: ESC_ROC_NAMES, aucs: KLF4_AUC, randomColor: "#8c564b", titleY: 937.7, titleFs: 9.3, yGap: 15, leg: [807.7, 1024.3, 930, 1100], legFs: 7.9 });
  boxPanel({ l: 104.3, t: 1167.7, r: 275.7, b: 1330, cats: ESC_CATEGORIES, yMin: -0.0015, yMax: 0.06, ticks: F6_TICKS, dec: 2, yName: fY("Nanog"), yGap: 26.5, xGap: 35, nameFs: 8.8, nameLh: 11, neg: NANOG_NEG, pos: NANOG_POS, leg: [188.3, 1173.3, 266, 1212.3], legTitle: "Nanog_Chip_bind", legFs: 7.8 });
  rocPanel({ l: 302.3, t: 1168.3, r: 468.3, b: 1329, curves: NANOG_ROC, names: ESC_ROC_NAMES, aucs: NANOG_AUC, randomColor: "#8c564b", titleY: 1160, titleFs: 9.3, yGap: 15, leg: [343.3, 1246.7, 465.7, 1322.3], legFs: 8 });
  boxPanel({ l: 566, t: 1165, r: 737.3, b: 1327.3, cats: ESC_CATEGORIES, yMin: -0.0011, yMax: 0.0452, ticks: F4_TICKS, dec: 2, yName: fY("Myc"), yGap: 23.2, xGap: 36, nameFs: 8.8, nameLh: 11, neg: MYC_NEG, pos: MYC_POS, leg: [661, 1170.7, 736.7, 1210], legTitle: "Myc_Chip_bind", legFs: 7.8 });
  rocPanel({ l: 768.3, t: 1166.7, r: 933.3, b: 1326.7, curves: MYC_ROC, names: ESC_ROC_NAMES, aucs: MYC_AUC, randomColor: "#8c564b", titleY: 1158.3, titleFs: 9.3, yGap: 15, leg: [807.7, 1245, 930, 1320.7], legFs: 8 });

  return { animation: false, backgroundColor: "#ffffff", grid, xAxis, yAxis, series, graphic };
}

export default function App() {
  const ref = useRef<HTMLDivElement>(null);
  useEffect(() => {
    const chart = echarts.init(ref.current as HTMLDivElement, undefined, { renderer: "svg" });
    chart.setOption(buildOption() as any);
    return () => chart.dispose();
  }, []);
  return <div ref={ref} style={{ position: "absolute", left: 0, top: 0, width: 1020, height: 1430, background: "#ffffff" }} />;
}
